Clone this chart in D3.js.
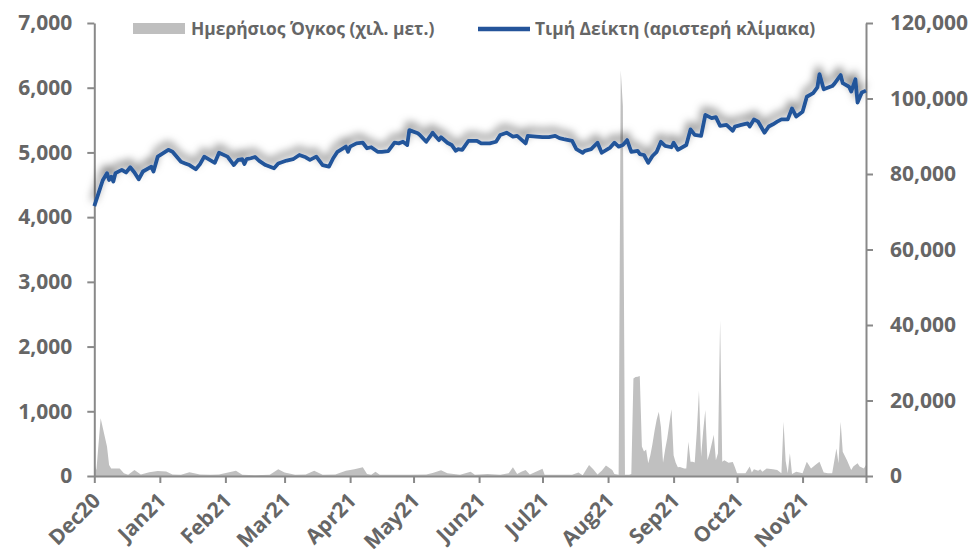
<!DOCTYPE html>
<html>
<head>
<meta charset="utf-8">
<script src="https://cdn.jsdelivr.net/npm/d3@7"></script>
<style>
  body { margin: 0; background: #fff; }
  text { font-family: "Open Sans", sans-serif; font-weight: bold; fill: #666; }
</style>
</head>
<body>
<script>
// index price (left scale)
var priceDates = ["2020-12-01","2020-12-03","2020-12-05","2020-12-07","2020-12-08","2020-12-09","2020-12-10","2020-12-11","2020-12-14","2020-12-16","2020-12-18","2020-12-20","2020-12-22","2020-12-24","2020-12-28","2020-12-29","2020-12-31",
  "2021-01-05","2021-01-07","2021-01-11","2021-01-13","2021-01-15","2021-01-18","2021-01-20","2021-01-22","2021-01-27","2021-01-29",
  "2021-02-02","2021-02-05","2021-02-07","2021-02-09","2021-02-10","2021-02-11","2021-02-13","2021-02-15","2021-02-17","2021-02-20","2021-02-24","2021-02-26",
  "2021-03-02","2021-03-05","2021-03-08","2021-03-11","2021-03-13","2021-03-16","2021-03-19","2021-03-22","2021-03-24","2021-03-26","2021-03-30","2021-03-31",
  "2021-04-01","2021-04-04","2021-04-07","2021-04-09","2021-04-11","2021-04-14","2021-04-16","2021-04-19","2021-04-22","2021-04-24","2021-04-26","2021-04-28","2021-04-29",
  "2021-05-03","2021-05-04","2021-05-06","2021-05-07","2021-05-09","2021-05-10","2021-05-13","2021-05-14","2021-05-17","2021-05-19","2021-05-21","2021-05-22","2021-05-24","2021-05-27","2021-05-31",
  "2021-06-02","2021-06-06","2021-06-09","2021-06-11","2021-06-14","2021-06-17","2021-06-19","2021-06-23","2021-06-24","2021-06-28",
  "2021-07-01","2021-07-04","2021-07-07","2021-07-09","2021-07-11","2021-07-15","2021-07-17","2021-07-20","2021-07-21","2021-07-24","2021-07-27","2021-07-29",
  "2021-08-01","2021-08-02","2021-08-04","2021-08-06","2021-08-08","2021-08-10","2021-08-12","2021-08-15","2021-08-16","2021-08-18","2021-08-20","2021-08-22","2021-08-24","2021-08-26","2021-08-28","2021-08-31",
  "2021-09-01","2021-09-03","2021-09-07","2021-09-09","2021-09-11","2021-09-14","2021-09-16","2021-09-19","2021-09-21","2021-09-23","2021-09-26","2021-09-29","2021-09-30",
  "2021-10-03","2021-10-06","2021-10-07","2021-10-09","2021-10-11","2021-10-14","2021-10-16","2021-10-18","2021-10-20","2021-10-22","2021-10-25","2021-10-27","2021-10-29",
  "2021-11-01","2021-11-03","2021-11-06","2021-11-08","2021-11-09","2021-11-11","2021-11-15","2021-11-16","2021-11-19","2021-11-20","2021-11-23","2021-11-24","2021-11-26","2021-11-27","2021-11-29","2021-12-01"];
var priceValues = [4170,4370,4570,4680,4575,4625,4550,4680,4730,4690,4770,4690,4585,4705,4780,4705,4935,
  5040,5010,4855,4830,4805,4740,4820,4935,4840,4995,
  4935,4805,4885,4895,4820,4895,4910,4930,4870,4805,4755,4830,
  4875,4895,4960,4925,4885,4935,4805,4780,4910,5010,5090,5010,
  5090,5140,5150,5065,5080,5010,5010,5020,5150,5140,5165,5115,5345,
  5295,5270,5200,5165,5255,5305,5190,5235,5150,5115,5025,5050,5040,5180,5180,
  5140,5140,5165,5270,5305,5245,5255,5140,5255,5245,
  5235,5235,5255,5220,5205,5180,5050,4995,5025,5050,5150,4995,
  5055,5075,5150,5090,5115,5190,5010,5025,4975,4960,4840,4945,5010,5165,5100,5080,
  5150,5040,5115,5355,5270,5255,5580,5530,5545,5410,5425,5335,5400,
  5425,5450,5400,5510,5475,5305,5400,5435,5475,5510,5510,5680,5555,
  5630,5860,5915,6005,6210,5975,6025,6060,6195,6070,6015,5940,6130,5770,5925,5955];

// daily volume, thousand tonnes (right scale)
var volDates = ["2020-12-01","2020-12-02","2020-12-04","2020-12-07","2020-12-08","2020-12-09","2020-12-11","2020-12-13","2020-12-15","2020-12-17","2020-12-20","2020-12-23","2020-12-27","2020-12-31",
  "2021-01-04","2021-01-07","2021-01-11","2021-01-15","2021-01-20","2021-01-25","2021-01-29",
  "2021-02-06","2021-02-09","2021-02-15","2021-02-22","2021-02-26",
  "2021-03-01","2021-03-06","2021-03-11","2021-03-15","2021-03-19","2021-03-25","2021-03-30",
  "2021-04-03","2021-04-07","2021-04-09","2021-04-11","2021-04-13","2021-04-15","2021-04-22","2021-04-29",
  "2021-05-07","2021-05-10","2021-05-14","2021-05-17","2021-05-23","2021-05-28","2021-05-30",
  "2021-06-05","2021-06-11","2021-06-15","2021-06-17","2021-06-19","2021-06-21","2021-06-23","2021-06-25",
  "2021-07-01","2021-07-02","2021-07-09","2021-07-15","2021-07-18","2021-07-20","2021-07-23","2021-07-25","2021-07-27","2021-07-29","2021-07-31",
  "2021-08-03","2021-08-04","2021-08-06","2021-08-07","2021-08-08","2021-08-09","2021-08-11","2021-08-12","2021-08-13","2021-08-14","2021-08-15","2021-08-16","2021-08-17","2021-08-18","2021-08-19","2021-08-20","2021-08-21","2021-08-22","2021-08-23","2021-08-24","2021-08-25","2021-08-26","2021-08-27","2021-08-28","2021-08-29","2021-08-30","2021-08-31",
  "2021-09-01","2021-09-02","2021-09-03","2021-09-04","2021-09-05","2021-09-06","2021-09-07","2021-09-08","2021-09-09","2021-09-10","2021-09-11","2021-09-12","2021-09-13","2021-09-14","2021-09-15","2021-09-16","2021-09-17","2021-09-18","2021-09-19","2021-09-20","2021-09-21","2021-09-22","2021-09-23","2021-09-24","2021-09-25","2021-09-27","2021-09-29","2021-09-30",
  "2021-10-01","2021-10-03","2021-10-05","2021-10-07","2021-10-08","2021-10-09","2021-10-11","2021-10-12","2021-10-13","2021-10-15","2021-10-18","2021-10-20","2021-10-22","2021-10-23","2021-10-24","2021-10-25","2021-10-26","2021-10-27","2021-10-29",
  "2021-11-01","2021-11-03","2021-11-05","2021-11-07","2021-11-09","2021-11-11","2021-11-13","2021-11-15","2021-11-17","2021-11-18","2021-11-19","2021-11-20","2021-11-22","2021-11-24","2021-11-25","2021-11-27","2021-11-28","2021-11-30","2021-12-01"];
var volValues = [3300,1600,15300,7800,2900,2000,2000,2000,700,300,1600,400,1000,1300,
  1200,400,300,1000,400,300,400,
  1400,350,200,350,1800,
  900,300,400,1400,350,400,1400,
  1800,2300,500,350,1100,300,300,300,
  400,800,1500,700,350,1100,300,
  500,300,700,2300,500,1100,1600,400,
  1900,300,300,350,900,200,2900,1800,400,1400,2800,
  1600,500,300,107500,98000,300,300,500,25800,26200,26300,26500,7800,6500,7000,3400,5500,8500,12000,15000,17000,13000,3500,7000,10000,14000,17700,
  5500,3500,2300,2400,2200,2000,2000,9100,3800,3800,3600,12000,22600,5100,12000,17500,4200,6000,8500,10900,4200,6000,41300,3800,4200,3500,3700,2300,
  700,700,700,2500,900,1800,1400,1800,1100,2000,1800,1600,700,14400,4000,700,6000,500,1100,
  700,3800,2000,2900,3800,900,700,700,7300,3400,14400,6400,4200,1600,2500,3400,2500,2000,2900];

var leftTicks = [0,1000,2000,3000,4000,5000,6000,7000];
var rightTicks = [0,20000,40000,60000,80000,100000,120000];
var legendLabels = ["Ημερήσιος Όγκος (χιλ. μετ.)", "Τιμή Δείκτη (αριστερή κλίμακα)"];

var width = 971, height = 549;
var margin = {top: 23, right: 105, bottom: 73, left: 94.3};
var parseDate = d3.timeParse("%Y-%m-%d");

var price = priceDates.map(function(d, i){ return {date: parseDate(d), value: priceValues[i]}; });
var vol = volDates.map(function(d, i){ return {date: parseDate(d), value: volValues[i]}; });

var start = parseDate("2020-12-01"), end = parseDate("2021-12-01");

var svg = d3.select("body").append("svg")
  .attr("width", width)
  .attr("height", height);

// soft grey glow above the price line
var defs = svg.append("defs");
var f = defs.append("filter").attr("id", "shadow")
  .attr("filterUnits", "userSpaceOnUse")
  .attr("x", 60).attr("y", 20).attr("width", 850).attr("height", 240);
f.append("feGaussianBlur").attr("in", "SourceAlpha").attr("stdDeviation", 4.5);
f.append("feOffset").attr("dx", -1).attr("dy", -6).attr("result", "blur");
f.append("feFlood").attr("flood-color", "#000").attr("flood-opacity", 0.6);
f.append("feComposite").attr("in2", "blur").attr("operator", "in");
var fm = f.append("feMerge");
fm.append("feMergeNode");
fm.append("feMergeNode").attr("in", "SourceGraphic");

var x = d3.scaleTime()
  .domain([start, end])
  .range([margin.left, width - margin.right]);

var yLeft = d3.scaleLinear()
  .domain([0, 7000])
  .range([height - margin.bottom, margin.top]);

var yRight = d3.scaleLinear()
  .domain([0, 120000])
  .range([height - margin.bottom, margin.top]);

// volume area
var area = d3.area()
  .x(function(d){ return x(d.date); })
  .y0(yRight(0))
  .y1(function(d){ return yRight(d.value); });

svg.append("path")
  .attr("d", area(vol))
  .attr("fill", "#c0c0c0");

// axes
var axisColor = "#898989";

var leftAxis = svg.append("g")
  .attr("transform", "translate(" + margin.left + ",0)")
  .call(d3.axisLeft(yLeft).tickValues(leftTicks).tickFormat(d3.format(",")).tickSize(7).tickSizeOuter(0).tickPadding(15));

var rightAxis = svg.append("g")
  .attr("transform", "translate(" + (width - margin.right) + ",0)")
  .call(d3.axisRight(yRight).tickValues(rightTicks).tickFormat(d3.format(",")).tickSize(7).tickSizeOuter(0).tickPadding(17));

var months = d3.timeMonth.range(start, d3.timeDay.offset(end, 1));
var bottomAxis = svg.append("g")
  .attr("transform", "translate(0," + (height - margin.bottom) + ")")
  .call(d3.axisBottom(x).tickValues(months).tickSize(7).tickSizeOuter(0)
    .tickFormat(function(d){ return +d === +end ? "" : d3.timeFormat("%b%y")(d); }));

[leftAxis, rightAxis, bottomAxis].forEach(function(g){
  g.select(".domain").attr("stroke", axisColor).attr("stroke-width", 2);
  g.selectAll(".tick line").attr("stroke", axisColor).attr("stroke-width", 2);
  g.selectAll("text").style("font-size", "21px").attr("fill", "#666");
});

bottomAxis.selectAll(".tick text")
  .attr("text-anchor", "end")
  .attr("dy", null)
  .attr("y", 0)
  .attr("transform", "translate(7,26) rotate(-45)");

// index price line
var line = d3.line()
  .x(function(d){ return x(d.date); })
  .y(function(d){ return yLeft(d.value); });

svg.append("path")
  .attr("d", line(price))
  .attr("fill", "none")
  .attr("stroke", "#24549a")
  .attr("stroke-width", 3.8)
  .attr("stroke-linejoin", "round")
  .attr("filter", "url(#shadow)");

// legend
var legend = svg.append("g");
legend.append("rect")
  .attr("x", 133).attr("y", 23).attr("width", 52).attr("height", 11)
  .attr("fill", "#bfbfbf");
legend.append("text")
  .attr("x", 191).attr("y", 35)
  .style("font-size", "17.4px")
  .text(legendLabels[0]);
legend.append("line")
  .attr("x1", 478).attr("x2", 530).attr("y1", 29).attr("y2", 29)
  .attr("stroke", "#24549a").attr("stroke-width", 4.5);
legend.append("text")
  .attr("x", 535).attr("y", 35)
  .style("font-size", "17.4px")
  .text(legendLabels[1]);
</script>
</body>
</html>
